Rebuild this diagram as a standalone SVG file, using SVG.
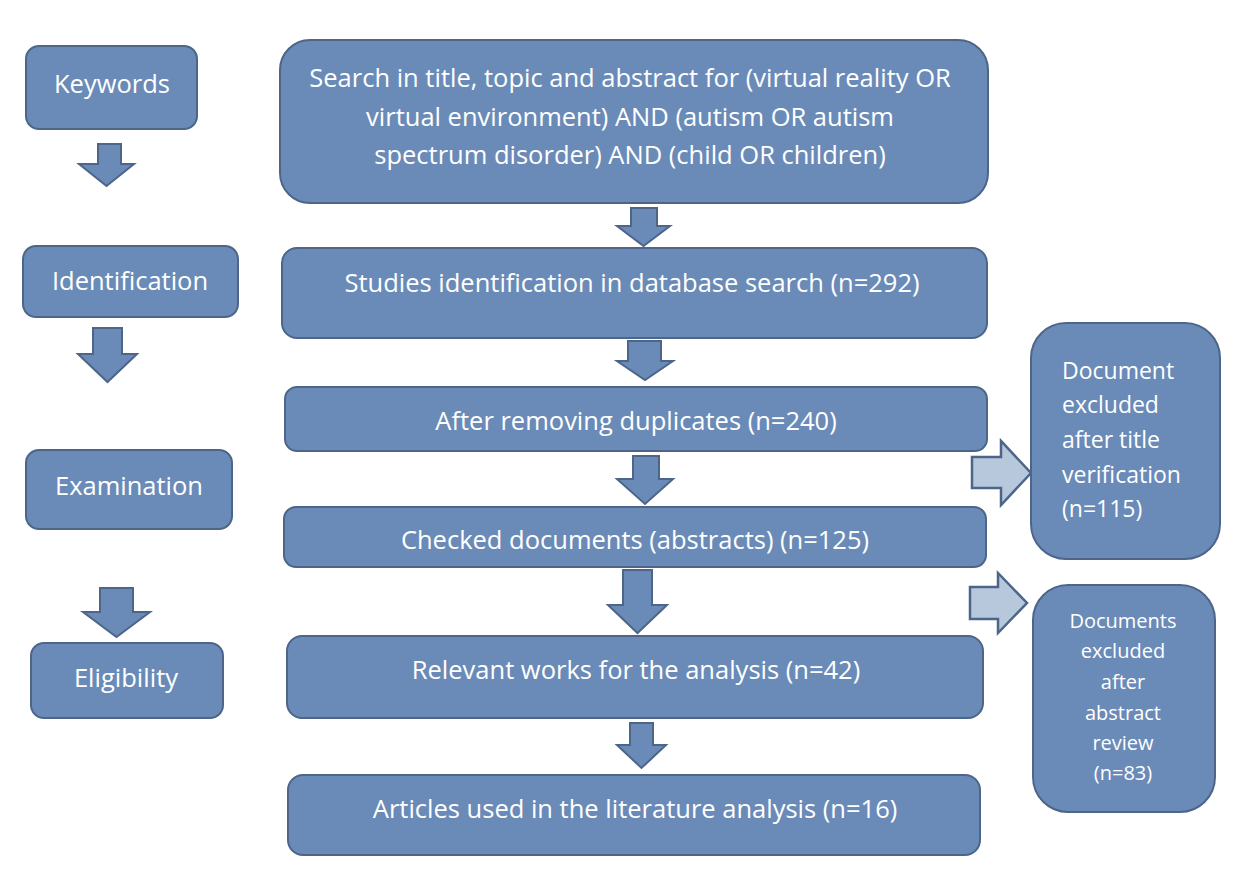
<svg xmlns="http://www.w3.org/2000/svg" width="1233" height="875" viewBox="0 0 1233 875">
<style>
.box{fill:#6a8bb8;stroke:#4d6588;stroke-width:2}
.arr{fill:#6a8bb8;stroke:#4d6588;stroke-width:2;stroke-linejoin:miter}
.larr{fill:#b8c8dc;stroke:#4d6588;stroke-width:2.5;stroke-linejoin:miter}
text{font-family:"Open Sans","Noto Sans","Liberation Sans",sans-serif;fill:#ffffff;font-size:25.5px}
.c{text-anchor:middle}
.m{font-size:23px}
.s{font-size:20px}
</style>
<rect width="1233" height="875" fill="#ffffff"/>
<g id="connectors">
<path class="arr" d="M98,144 H121 V164 H134 L106.5,186 L79,164 H98 Z"/>
<path class="arr" d="M93,328 H122 V354 H137 L107.5,382 L78,354 H93 Z"/>
<path class="arr" d="M100,588 H133 V612 H150 L116.5,637 L83,612 H100 Z"/>
<path class="arr" d="M631,208 H657 V226 H670 L643.5,246 L617,226 H631 Z"/>
<path class="arr" d="M628,341 H661 V361 H673 L645,380 L617,361 H628 Z"/>
<path class="arr" d="M633,456 H659 V479 H673 L645,504 L617,479 H633 Z"/>
<path class="arr" d="M623,570 H652 V605 H667 L637.5,633 L608,605 H623 Z"/>
<path class="arr" d="M630,723 H653 V745 H666 L641.5,768 L617,745 H630 Z"/>
<path class="larr" d="M972,457 H1001 V441 L1031,473 L1001,505 V488 H972 Z"/>
<path class="larr" d="M970,587 H998 V573 L1027,603 L998,633 V619 H970 Z"/>
</g>
<g id="keywords">
<rect class="box" x="26" y="46" width="171" height="83" rx="13"/>
<text class="c" x="112" y="93">Keywords</text>
</g>
<g id="search">
<rect class="box" x="280" y="40" width="708" height="163" rx="30"/>
<text class="c" x="630" y="87">Search in title, topic and abstract for (virtual reality OR</text>
<text class="c" x="630" y="126">virtual environment) AND (autism OR autism</text>
<text class="c" x="630" y="164">spectrum disorder) AND (child OR children)</text>
</g>
<g id="identification">
<rect class="box" x="23" y="246" width="215" height="71" rx="13"/>
<text class="c" x="130" y="290">Identification</text>
</g>
<g id="studies">
<rect class="box" x="282" y="248" width="705" height="90" rx="15"/>
<text class="c" x="632" y="292">Studies identification in database search (n=292)</text>
</g>
<g id="duplicates">
<rect class="box" x="285" y="387" width="702" height="64" rx="12"/>
<text class="c" x="636" y="430">After removing duplicates (n=240)</text>
</g>
<g id="examination">
<rect class="box" x="26" y="450" width="206" height="79" rx="13"/>
<text class="c" x="129" y="495">Examination</text>
</g>
<g id="checked">
<rect class="box" x="284" y="507" width="702" height="60" rx="12"/>
<text class="c" x="635" y="549">Checked documents (abstracts) (n=125)</text>
</g>
<g id="excluded-title">
<rect class="box" x="1031" y="323" width="189" height="236" rx="35"/>
<text class="m" x="1062" y="379">Document</text>
<text class="m" x="1062" y="413">excluded</text>
<text class="m" x="1062" y="448">after title</text>
<text class="m" x="1062" y="483">verification</text>
<text class="m" x="1062" y="517">(n=115)</text>
</g>
<g id="relevant">
<rect class="box" x="287" y="636" width="696" height="82" rx="15"/>
<text class="c" x="636" y="679">Relevant works for the analysis (n=42)</text>
</g>
<g id="eligibility">
<rect class="box" x="31" y="643" width="192" height="75" rx="13"/>
<text class="c" x="126" y="687">Eligibility</text>
</g>
<g id="excluded-abstract">
<rect class="box" x="1033" y="585" width="182" height="227" rx="35"/>
<text class="c s" x="1123" y="628">Documents</text>
<text class="c s" x="1123" y="658">excluded</text>
<text class="c s" x="1123" y="689">after</text>
<text class="c s" x="1123" y="720">abstract</text>
<text class="c s" x="1123" y="750">review</text>
<text class="c s" x="1123" y="780">(n=83)</text>
</g>
<g id="articles">
<rect class="box" x="288" y="775" width="692" height="80" rx="15"/>
<text class="c" x="635" y="818">Articles used in the literature analysis (n=16)</text>
</g>
</svg>
